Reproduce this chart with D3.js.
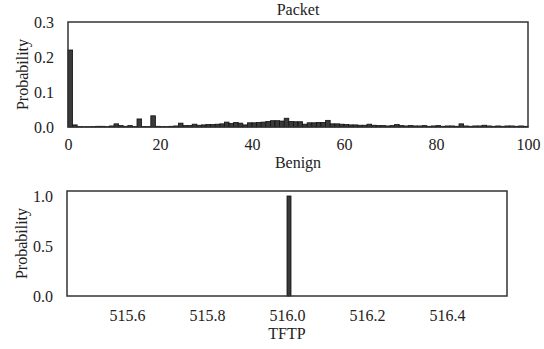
<!DOCTYPE html>
<html>
<head>
<meta charset="utf-8">
<script src="https://cdn.jsdelivr.net/npm/d3@7"></script>
<style>
  body { margin: 0; background: #fff; }
  svg text { font-family: "Liberation Serif", "Times New Roman", serif !important; fill: #222; }
</style>
</head>
<body>
<svg id="chart" width="544" height="349"></svg>
<script>
// Benign packet-length histogram: probability per unit bin, bins [0,1), [1,2) ... [99,100)
const benignBins = d3.range(0, 100);
const benignProb = [
  0.220, 0.006, 0.001, 0.0005, 0.0005, 0.001, 0.002, 0.002, 0.001, 0.003,
  0.009, 0.004, 0.002, 0.004, 0.001, 0.023, 0.001, 0.001, 0.032, 0.002,
  0.001, 0.001, 0.002, 0.003, 0.011, 0.004, 0.004, 0.008, 0.005, 0.006,
  0.007, 0.007, 0.008, 0.009, 0.014, 0.010, 0.013, 0.011, 0.006, 0.012,
  0.012, 0.013, 0.014, 0.016, 0.018, 0.018, 0.017, 0.025, 0.016, 0.015,
  0.015, 0.008, 0.012, 0.012, 0.013, 0.013, 0.019, 0.009, 0.009, 0.008,
  0.007, 0.006, 0.006, 0.005, 0.005, 0.008, 0.005, 0.004, 0.004, 0.003,
  0.004, 0.007, 0.004, 0.003, 0.004, 0.003, 0.003, 0.004, 0.002, 0.003,
  0.004, 0.002, 0.003, 0.003, 0.002, 0.009, 0.003, 0.002, 0.003, 0.003,
  0.005, 0.003, 0.002, 0.003, 0.002, 0.003, 0.003, 0.002, 0.003, 0.002
];
const benignXTicks = [0, 20, 40, 60, 80, 100];
const benignYTicks = [0.0, 0.1, 0.2, 0.3];

// TFTP packet lengths: every packet is 516 bytes
const tftpBins = [516.0];
const tftpProb = [1.0];
const tftpBinWidth = 0.01;
const tftpXTicks = [515.6, 515.8, 516.0, 516.2, 516.4];
const tftpYTicks = [0.0, 0.5, 1.0];

const svg = d3.select("#chart");
const barFill = "#3a3a3a";
const frameColor = "#333";
const fontSize = 16;

function panel(opts) {
  const { left, right, top, bottom, xDomain, yDomain, xTicks, yTicks,
          xFmt, yFmt, bins, probs, width, xLabel, title, xPad } = opts;
  const x = d3.scaleLinear().domain(xDomain).range([left, right]);
  const y = d3.scaleLinear().domain(yDomain).range([bottom, top]);
  const g = svg.append("g");

  g.selectAll("rect.bar")
    .data(bins.map((b, i) => ({ b, p: probs[i] })))
    .join("rect")
    .attr("class", "bar")
    .attr("x", d => x(d.b))
    .attr("width", d => x(d.b + width) - x(d.b))
    .attr("y", d => y(d.p))
    .attr("height", d => y(0) - y(d.p))
    .attr("fill", barFill)
    .attr("stroke", "#111")
    .attr("stroke-width", 0.8);

  // axes: labels only, no tick marks
  const xAxis = g.append("g")
    .attr("transform", `translate(0,${bottom})`)
    .call(d3.axisBottom(x).tickValues(xTicks).tickFormat(xFmt).tickSize(0).tickPadding(xPad));
  xAxis.select(".domain").remove();
  xAxis.attr("font-size", fontSize).attr("font-family", null);

  const yAxis = g.append("g")
    .attr("transform", `translate(${left},0)`)
    .call(d3.axisLeft(y).tickValues(yTicks).tickFormat(yFmt).tickSize(0).tickPadding(14));
  yAxis.select(".domain").remove();
  yAxis.attr("font-size", fontSize).attr("font-family", null);

  g.append("rect")
    .attr("x", left).attr("y", top)
    .attr("width", right - left).attr("height", bottom - top)
    .attr("fill", "none").attr("stroke", frameColor).attr("stroke-width", 1.5);

  g.append("text")
    .attr("x", (left + right) / 2).attr("y", bottom + xPad + 29)
    .attr("text-anchor", "middle").attr("font-size", fontSize)
    .text(xLabel);

  g.append("text")
    .attr("transform", `translate(${left - 40},${(top + bottom) / 2}) rotate(-90)`)
    .attr("text-anchor", "middle").attr("font-size", fontSize)
    .text("Probability");

  if (title) {
    g.append("text")
      .attr("x", (left + right) / 2).attr("y", top - 7)
      .attr("text-anchor", "middle").attr("font-size", fontSize)
      .text(title);
  }
}

panel({
  left: 68, right: 528, top: 22, bottom: 127,
  xDomain: [0, 100], yDomain: [0, 0.3],
  xTicks: benignXTicks, yTicks: benignYTicks,
  xFmt: d3.format("d"), yFmt: d3.format(".1f"),
  bins: benignBins, probs: benignProb, width: 1,
  xLabel: "Benign", title: "Packet", xPad: 12
});

panel({
  left: 67, right: 507, top: 191, bottom: 296,
  xDomain: [515.45, 516.55], yDomain: [0, 1.05],
  xTicks: tftpXTicks, yTicks: tftpYTicks,
  xFmt: d3.format(".1f"), yFmt: d3.format(".1f"),
  bins: tftpBins, probs: tftpProb, width: tftpBinWidth,
  xLabel: "TFTP", xPad: 14
});
</script>
</body>
</html>
